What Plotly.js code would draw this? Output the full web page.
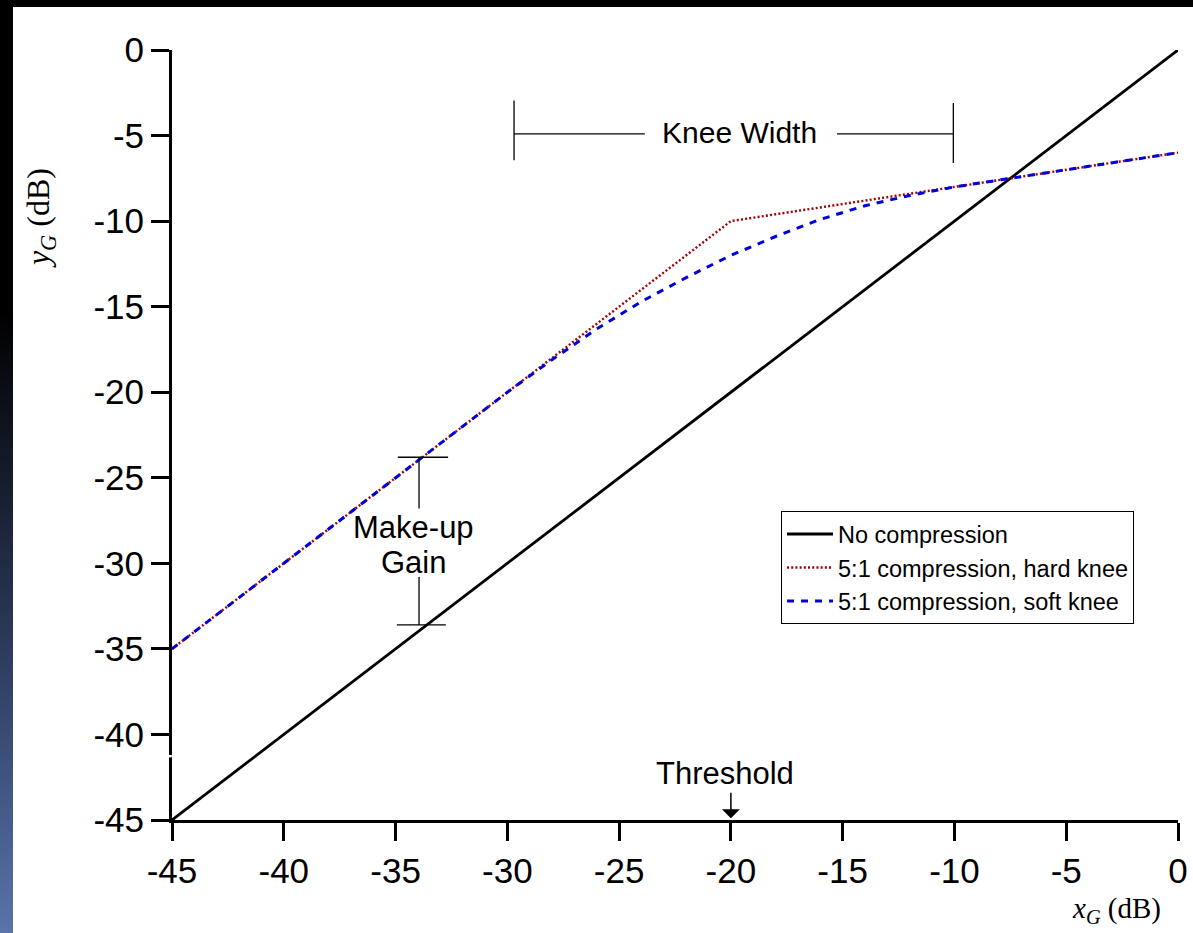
<!DOCTYPE html>
<html>
<head>
<meta charset="utf-8">
<script src="https://cdn.plot.ly/plotly-3.0.1.min.js"></script>
<style>
  html, body { margin: 0; padding: 0; width: 1193px; height: 933px; overflow: hidden; }
  body { background: linear-gradient(to bottom, #000000 0%, #000000 33%, #1a2236 55%, #3a4e78 80%, #5874aa 100%); }
  #topbar { position: absolute; left: 0; top: 0; width: 1193px; height: 7px; background: #000; }
  #chart { position: absolute; left: 13px; top: 7px; width: 1180px; height: 926px; background: #fff; }
</style>
</head>
<body>
<div id="topbar"></div>
<div id="chart"></div>
<script>
// ---- data ----
const noCompX = [-45, 0];
const noCompY = [-45, 0];

const hardX = [-45, -20, 0];
const hardY = [-35, -10, -6];

const softX = [-45, -30, -28, -26, -24, -22, -20, -18, -16, -14, -12, -10, 0];
const softY = [-35, -20, -18.1, -16.3, -14.7, -13.3, -12, -10.9, -9.9, -9.1, -8.5, -8, -6];

const seriesNames = ['No compression', '5:1 compression, hard knee', '5:1 compression, soft knee'];

const xTickVals = [-45, -40, -35, -30, -25, -20, -15, -10, -5, 0];
const xTickText = ['-45', '-40', '-35', '-30', '-25', '-20', '-15', '-10', '-5', '0'];
const yTickVals = [-45, -40, -35, -30, -25, -20, -15, -10, -5, 0];
const yTickText = ['-45', '-40', '-35', '-30', '-25', '-20', '-15', '-10', '-5', '0'];

// ---- chart ----
const sans = 'Liberation Sans, Arial, sans-serif';
const serif = 'Liberation Serif, Times New Roman, serif';

const traces = [
  { x: noCompX, y: noCompY, name: seriesNames[0], mode: 'lines',
    line: { color: '#000000', width: 2.8 } },
  { x: hardX, y: hardY, name: seriesNames[1], mode: 'lines',
    line: { color: '#a00000', width: 2.4, dash: '2px,2.2px' } },
  { x: softX, y: softY, name: seriesNames[2], mode: 'lines',
    line: { color: '#0000dd', width: 3, dash: '7px,7px' } }
];

function seg(x0, y0, x1, y1) {
  return { type: 'line', xref: 'x', yref: 'y', x0: x0, y0: y0, x1: x1, y1: y1,
           line: { color: '#000', width: 1.3 } };
}

const layout = {
  width: 1180, height: 926,
  margin: { l: 159, r: 15, t: 42.5, b: 113, pad: 0 },
  paper_bgcolor: '#ffffff',
  plot_bgcolor: '#ffffff',
  showlegend: true,
  legend: {
    x: 0.6054, y: 0.401, xanchor: 'left', yanchor: 'top',
    bgcolor: '#ffffff', bordercolor: '#000000', borderwidth: 1,
    font: { family: sans, size: 23.5, color: '#000' },
    tracegroupgap: 0, itemwidth: 46
  },
  xaxis: {
    range: [-45, 0], tickvals: xTickVals, ticktext: xTickText,
    ticks: 'outside', ticklen: 18, tickwidth: 3, tickcolor: '#000',
    showline: true, linewidth: 3, linecolor: '#000',
    showgrid: false, zeroline: false,
    tickfont: { family: sans, size: 35, color: '#000' }
  },
  yaxis: {
    range: [-45, 0], tickvals: yTickVals, ticktext: yTickText,
    ticks: 'outside', ticklen: 18, tickwidth: 3, tickcolor: '#000',
    showline: true, linewidth: 3, linecolor: '#000',
    showgrid: false, zeroline: false,
    tickfont: { family: sans, size: 35, color: '#000' }
  },
  shapes: [
    // Knee width bracket
    seg(-29.7, -2.95, -29.7, -6.45),
    seg(-10.05, -3.1, -10.05, -6.6),
    seg(-29.7, -4.9, -23.85, -4.9),
    seg(-15.25, -4.9, -10.05, -4.9),
    // Make-up gain bracket
    seg(-34.9, -23.8, -32.65, -23.8),
    seg(-33.95, -23.8, -33.95, -26.8),
    seg(-33.95, -30.8, -33.95, -33.6),
    seg(-34.94, -33.6, -32.75, -33.6),
    // small break in the y-axis line, as in the original
    { type: 'rect', xref: 'paper', yref: 'y', x0: -0.006, x1: -0.0002, y0: -41.2, y1: -41.34,
      fillcolor: '#ffffff', line: { width: 0 }, layer: 'above' }
  ],
  annotations: [
    { x: -19.6, y: -4.85, xref: 'x', yref: 'y', text: 'Knee Width', showarrow: false,
      xanchor: 'center', yanchor: 'middle',
      font: { family: sans, size: 30, color: '#000' } },
    { x: -34.2, y: -27.9, xref: 'x', yref: 'y', text: 'Make-up', showarrow: false,
      xanchor: 'center', yanchor: 'middle',
      font: { family: sans, size: 31, color: '#000' } },
    { x: -34.2, y: -29.95, xref: 'x', yref: 'y', text: 'Gain', showarrow: false,
      xanchor: 'center', yanchor: 'middle',
      font: { family: sans, size: 31, color: '#000' } },
    { x: -20.26, y: -42.26, xref: 'x', yref: 'y', text: 'Threshold', showarrow: false,
      xanchor: 'center', yanchor: 'middle',
      font: { family: sans, size: 31, color: '#000' } },
    { x: -20, y: -44.9, xref: 'x', yref: 'y', text: '', showarrow: true,
      ax: 0, ay: -27, axref: 'pixel', ayref: 'pixel',
      arrowhead: 1, arrowsize: 2, arrowwidth: 1.5, arrowcolor: '#000', standoff: 0 },
    { x: 0.9384, y: -0.1165, xref: 'paper', yref: 'paper', showarrow: false,
      xanchor: 'center', yanchor: 'middle',
      text: '<i>x</i><sub><i>G</i></sub> (dB)',
      font: { family: serif, size: 29, color: '#000' } },
    { x: -0.1305, y: 0.7813, xref: 'paper', yref: 'paper', showarrow: false, textangle: -90,
      xanchor: 'center', yanchor: 'middle',
      text: '<i>y</i><sub><i>G</i></sub> (dB)',
      font: { family: serif, size: 32, color: '#000' } }
  ]
};

Plotly.newPlot('chart', traces, layout, { displayModeBar: false, staticPlot: true });
</script>
</body>
</html>
